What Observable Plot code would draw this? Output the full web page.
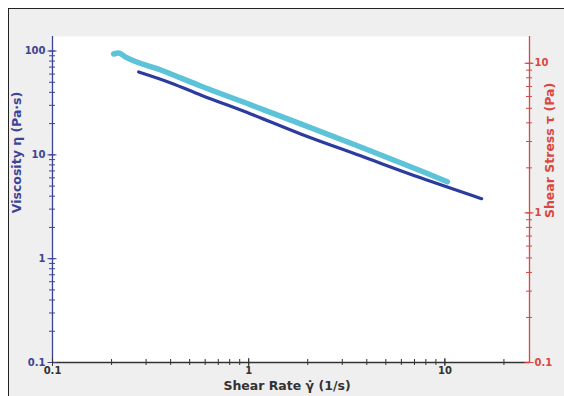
<!DOCTYPE html>
<html>
<head>
<meta charset="utf-8">
<script src="https://cdn.jsdelivr.net/npm/d3@7"></script>
<script src="https://cdn.jsdelivr.net/npm/@observablehq/plot@0.6"></script>
<style>
  html, body { margin: 0; padding: 0; background: #ffffff; }
  #wrap { position: absolute; left: 0; top: 0; width: 564px; height: 396px; overflow: hidden; }
  #bg { position: absolute; left: 8px; top: 8px; width: 600px; height: 400px; background: #efefef;
        border-left: 1px solid #222; border-top: 1px solid #222; }
  #chart { position: absolute; left: 0; top: 0; }
  #chart svg text { font-weight: bold; }
</style>
</head>
<body>
<div id="wrap"><div id="bg"></div><div id="chart"></div></div>
<script>
// Shear rate (1/s) and viscosity (Pa·s)
const cyanRate = [0.205, 0.2175, 0.236, 0.356, 0.569, 1.024, 1.841, 3.72, 7.52, 10.3];
const cyanVisc = [93.6, 95.7, 87.5, 65.7, 46.1, 30.3, 19.9, 11.9, 7.02, 5.5];
const darkRate = [0.275, 0.401, 0.569, 1.024, 1.841, 3.72, 7.52, 15.4];
const darkVisc = [62.8, 49.3, 37.8, 24.8, 15.9, 9.78, 6.01, 3.78];

// Axes
const xDomain = [0.1, 27];
const viscDomain = [0.1, 138];
const stressDomain = [0.1, 15.1];
const viscMajor = [0.1, 1, 10, 100];
const stressMajor = [0.1, 1, 10];
const rateMajor = [0.1, 1, 10];

const BLUE = "#3d4497", RED = "#d9473f", GREY = "#333333";
const CYAN = "#5cc3d8", DARK = "#2b3c9e";

function minors(lo, hi) {
  const out = [];
  for (let e = -1; e <= 3; e++) for (let m = 1; m <= 9; m++) {
    const v = m * Math.pow(10, e);
    if (v >= lo * 0.9999 && v <= hi * 1.0001) out.push(+v.toPrecision(3));
  }
  return out;
}
// shear stress values are placed on the viscosity scale (shared y scale of the plot)
const L = Math.log10;
const viscSpan = L(viscDomain[1]) - L(viscDomain[0]);
const stressSpan = L(stressDomain[1]) - L(stressDomain[0]);
function stressToVisc(s) {
  const t = (L(s) - L(stressDomain[0])) / stressSpan;
  return Math.pow(10, L(viscDomain[0]) + t * viscSpan);
}
const stressMinor = minors(...stressDomain);
const fmt = d => String(d);
const atRight = () => xDomain[1];

const cyan = cyanRate.map((r, i) => ({rate: r, visc: cyanVisc[i]}));
const dark = darkRate.map((r, i) => ({rate: r, visc: darkVisc[i]}));

const chart = Plot.plot({
  width: 564, height: 396,
  marginLeft: 52, marginRight: 35, marginTop: 36, marginBottom: 34,
  style: {background: "transparent", fontFamily: "DejaVu Sans, Verdana, sans-serif", fontSize: "10px"},
  x: {type: "log", domain: xDomain},
  y: {type: "log", domain: viscDomain},
  marks: [
    Plot.frame({fill: "white", stroke: "none"}),
    Plot.line(cyan, {x: "rate", y: "visc", stroke: CYAN, strokeWidth: 5.5, curve: "monotone-x"}),
    Plot.line(dark, {x: "rate", y: "visc", stroke: DARK, strokeWidth: 3.2, curve: "monotone-x"}),
    // axis lines
    Plot.ruleX([xDomain[0]], {stroke: BLUE, strokeWidth: 1.3}),
    Plot.ruleY([viscDomain[0]], {stroke: GREY, strokeWidth: 1.3}),
    Plot.ruleX([xDomain[1]], {stroke: RED, strokeWidth: 1.3}),
    // left axis (viscosity)
    Plot.axisY({anchor: "left", ticks: minors(...viscDomain), tickSize: 6, dx: 3, tickFormat: () => "", color: BLUE, label: null}),
    Plot.axisY({anchor: "left", ticks: viscMajor, tickSize: 9, dx: 4.5, tickFormat: () => "", color: BLUE, label: null}),
    Plot.axisY({anchor: "left", ticks: viscMajor, tickSize: 0, tickPadding: 7, tickFormat: fmt, color: BLUE, label: null}),
    // right axis (shear stress)
    Plot.ruleY(stressMinor, {y: stressToVisc, x1: atRight, x2: atRight, insetLeft: -3, insetRight: -3, stroke: RED, strokeWidth: 1}),
    Plot.ruleY(stressMajor, {y: stressToVisc, x1: atRight, x2: atRight, insetLeft: -4.5, insetRight: -4.5, stroke: RED, strokeWidth: 1}),
    Plot.text(stressMajor, {x: atRight, y: stressToVisc, text: fmt, dx: 5, textAnchor: "start", fill: RED, fontSize: 10, fontWeight: "bold"}),
    // bottom axis (shear rate)
    Plot.axisX({anchor: "bottom", ticks: minors(...xDomain), tickSize: 6, dy: -3, tickFormat: () => "", color: GREY, label: null}),
    Plot.axisX({anchor: "bottom", ticks: rateMajor, tickSize: 8, dy: -4, tickFormat: () => "", color: GREY, label: null}),
    Plot.axisX({anchor: "bottom", ticks: rateMajor, tickSize: 0, tickPadding: 4, tickFormat: fmt, color: GREY, label: null}),
    // axis titles
    Plot.text(["Viscosity η (Pa·s)"], {frameAnchor: "left", textAnchor: "middle", dx: -36, dy: -47, rotate: -90, fill: BLUE, fontSize: 12.5, fontWeight: "bold"}),
    Plot.text(["Shear Stress τ (Pa)"], {frameAnchor: "right", textAnchor: "middle", dx: 20, dy: -49, rotate: -90, fill: RED, fontSize: 12.5, fontWeight: "bold"}),
    Plot.text(["Shear Rate γ̇ (1/s)"], {frameAnchor: "bottom", textAnchor: "middle", dx: -4, dy: 27, fill: GREY, fontSize: 12.5, fontWeight: "bold"})
  ]
});
document.getElementById("chart").appendChild(chart);
</script>
</body>
</html>
